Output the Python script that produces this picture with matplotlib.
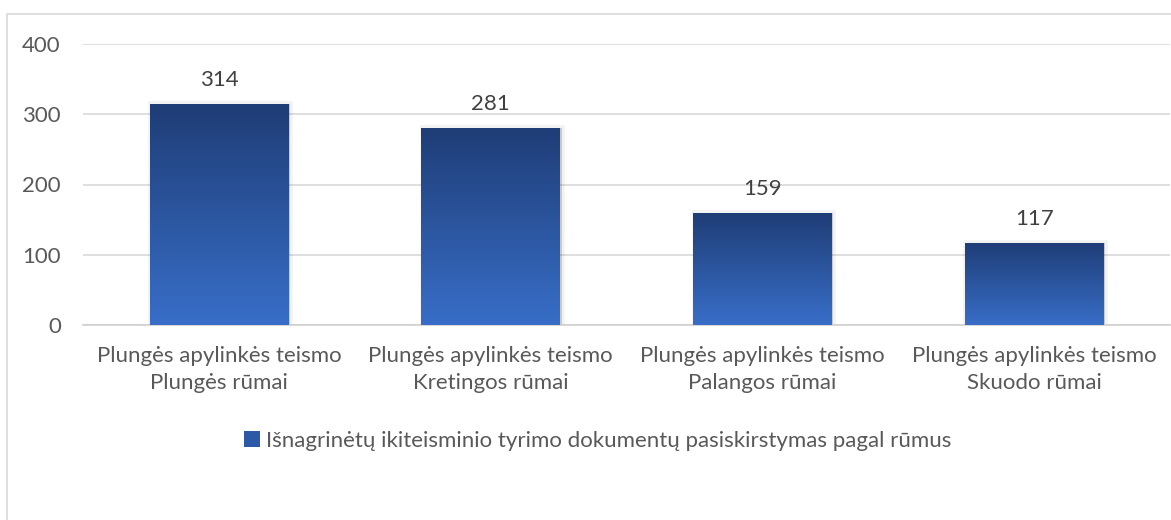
import numpy as np
import matplotlib.pyplot as plt
from matplotlib.colors import LinearSegmentedColormap
from matplotlib.patches import Rectangle
import matplotlib.patheffects as pe

categories = [
    "Plungės apylinkės teismo\nPlungės rūmai",
    "Plungės apylinkės teismo\nKretingos rūmai",
    "Plungės apylinkės teismo\nPalangos rūmai",
    "Plungės apylinkės teismo\nSkuodo rūmai",
]
values = [314, 281, 159, 117]
series_name = "Išnagrinėtų ikiteisminio tyrimo dokumentų pasiskirstymas pagal rūmus"
yticks = [0, 100, 200, 300, 400]

plt.rcParams['font.family'] = ['Lato', 'DejaVu Sans']
text_color = '#595959'
top_color = '#1f3d76'
bottom_color = '#386ec8'
grad = LinearSegmentedColormap.from_list('bar', [bottom_color, top_color])

fig = plt.figure(figsize=(11.71, 5.20), dpi=100)
# chart border like the office chart frame
fig.patches.append(Rectangle((7 / 1171, -0.1), 1.2, 1 - 14 / 520 + 0.1,
                             transform=fig.transFigure, fill=False,
                             edgecolor='#d9d9d9', linewidth=1.2))

ax = fig.add_axes([83 / 1171, 1 - 325 / 520, (1170 - 83) / 1171, (325 - 44) / 520])
x = np.arange(len(values))
width = 0.51
bars = ax.bar(x, values, width=width, color='none', zorder=3)

grad_img = np.linspace(0, 1, 256).reshape(-1, 1)
for b, v in zip(bars, values):
    x0 = b.get_x()
    # soft shadow
    ax.add_patch(Rectangle((x0 + 0.006, 0), width, v, facecolor='#000000',
                           alpha=0.12, zorder=2, linewidth=0,
                           path_effects=[pe.withStroke(linewidth=4, foreground='#000000', alpha=0.05)]))
    im = ax.imshow(grad_img, cmap=grad, aspect='auto', origin='lower',
                   extent=(x0, x0 + width, 0, v), zorder=3)
    im.set_clip_path(b)
    ax.text(b.get_x() + width / 2, v + 20, str(v), ha='center', va='bottom',
            fontsize=16, color='#404040', zorder=4)

ax.set_xlim(-0.5, len(values) - 0.5)
ax.set_ylim(0, 400)
ax.set_yticks(yticks)
ax.set_xticks(x)
ax.set_xticklabels(categories, fontsize=16, color=text_color, linespacing=1.45)
ax.tick_params(axis='y', labelsize=16, labelcolor=text_color, length=0, pad=16)
ax.tick_params(axis='x', length=0, pad=15)
ax.grid(axis='y', color='#d9d9d9', linewidth=1.2, zorder=0)
ax.set_axisbelow(True)
for s in ['top', 'right', 'left']:
    ax.spines[s].set_visible(False)
ax.spines['bottom'].set_color('#d0d0d0')
ax.spines['bottom'].set_linewidth(1.2)

handle = Rectangle((0, 0), 1, 1, facecolor='#2c58a8')
fig.legend([handle], [series_name], loc='center', bbox_to_anchor=(598 / 1171, 1 - 441 / 520),
           frameon=False, fontsize=16, labelcolor=text_color, handlelength=0.7,
           handleheight=0.7, handletextpad=0.3)

fig.savefig('out.png', dpi=100)
